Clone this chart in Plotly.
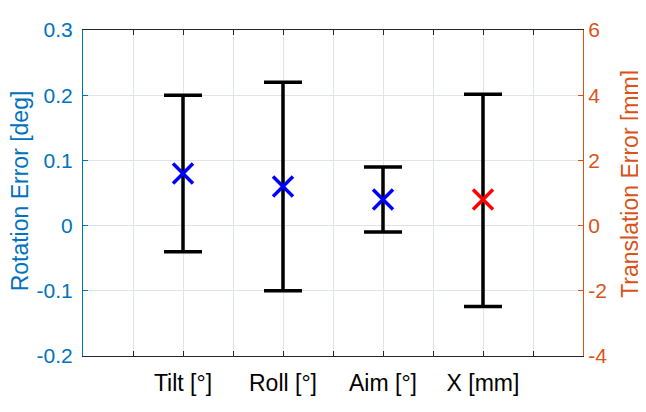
import plotly.graph_objects as go

# ---- data ----
rot_x = [2, 4, 6]
rot_mean = [0.08, 0.06, 0.04]
rot_upper = [0.20, 0.22, 0.09]
rot_lower = [-0.04, -0.10, -0.01]

trans_x = [8]
trans_mean = [0.8]
trans_upper = [4.03]
trans_lower = [-2.48]

x_tickvals = [1, 2, 3, 4, 5, 6, 7, 8, 9]
x_ticktext = ["", "Tilt [°]", "", "Roll [°]", "", "Aim [°]", "", "X [mm]", ""]
left_tickvals = [-0.2, -0.1, 0, 0.1, 0.2, 0.3]
left_ticktext = ["-0.2", "-0.1", "0", "0.1", "0.2", "0.3"]
right_tickvals = [-4, -2, 0, 2, 4, 6]
right_ticktext = ["-4", "-2", "0", "2", "4", "6"]

BLUE_AX = "#0072BD"
ORANGE_AX = "#D95319"
GRID = "#dfe4ea"
FONT = "Liberation Sans, Arial, sans-serif"

fig = go.Figure()

fig.add_trace(go.Scatter(
    x=rot_x, y=rot_mean, mode="markers",
    marker=dict(symbol="x-thin", size=20, color="#0000FF",
                line=dict(color="#0000FF", width=3.5)),
    error_y=dict(type="data", symmetric=False,
                 array=[u - m for u, m in zip(rot_upper, rot_mean)],
                 arrayminus=[m - l for m, l in zip(rot_mean, rot_lower)],
                 color="black", thickness=3.5, width=19),
    yaxis="y", showlegend=False,
))

fig.add_trace(go.Scatter(
    x=trans_x, y=trans_mean, mode="markers",
    marker=dict(symbol="x-thin", size=20, color="#FF0000",
                line=dict(color="#FF0000", width=3.5)),
    error_y=dict(type="data", symmetric=False,
                 array=[u - m for u, m in zip(trans_upper, trans_mean)],
                 arrayminus=[m - l for m, l in zip(trans_mean, trans_lower)],
                 color="black", thickness=3.5, width=19),
    yaxis="y2", showlegend=False,
))

# page body has an 8px default margin; size/margins compensate for it
fig.update_layout(
    width=638, height=404,
    margin=dict(l=75, r=63, t=22, b=56),
    paper_bgcolor="white", plot_bgcolor="white",
    font=dict(family=FONT),
    xaxis=dict(
        range=[0, 10], tickvals=x_tickvals, ticktext=x_ticktext,
        showgrid=True, gridcolor=GRID, gridwidth=1,
        showline=True, linecolor="#262626", linewidth=1, mirror="ticks",
        ticks="inside", ticklen=5, tickcolor="#262626",
        tickfont=dict(size=23, color="black"), ticklabelstandoff=6,
        zeroline=False, automargin=False,
    ),
    yaxis=dict(
        range=[-0.2, 0.3], tickvals=left_tickvals, ticktext=left_ticktext,
        showgrid=True, gridcolor=GRID, gridwidth=1,
        showline=True, linecolor=BLUE_AX, linewidth=1,
        ticks="inside", ticklen=5, tickcolor=BLUE_AX,
        tickfont=dict(size=21, color=BLUE_AX), ticklabelstandoff=5,
        zeroline=False, automargin=False,
    ),
    yaxis2=dict(
        range=[-4, 6], tickvals=right_tickvals, ticktext=right_ticktext,
        overlaying="y", side="right", showgrid=False,
        showline=True, linecolor=ORANGE_AX, linewidth=1,
        ticks="inside", ticklen=5, tickcolor=ORANGE_AX,
        tickfont=dict(size=21, color=ORANGE_AX), ticklabelstandoff=0,
        zeroline=False, automargin=False,
    ),
    annotations=[
        dict(text="Rotation Error [deg]", xref="paper", yref="paper",
             x=-0.126, y=0.505, xanchor="center", yanchor="middle",
             textangle=-90, showarrow=False,
             font=dict(size=23, color=BLUE_AX, family=FONT)),
        dict(text="Translation Error [mm]", xref="paper", yref="paper",
             x=1.094, y=0.528, xanchor="center", yanchor="middle",
             textangle=-90, showarrow=False,
             font=dict(size=23, color=ORANGE_AX, family=FONT)),
    ],
)

fig.write_html("out.html")
